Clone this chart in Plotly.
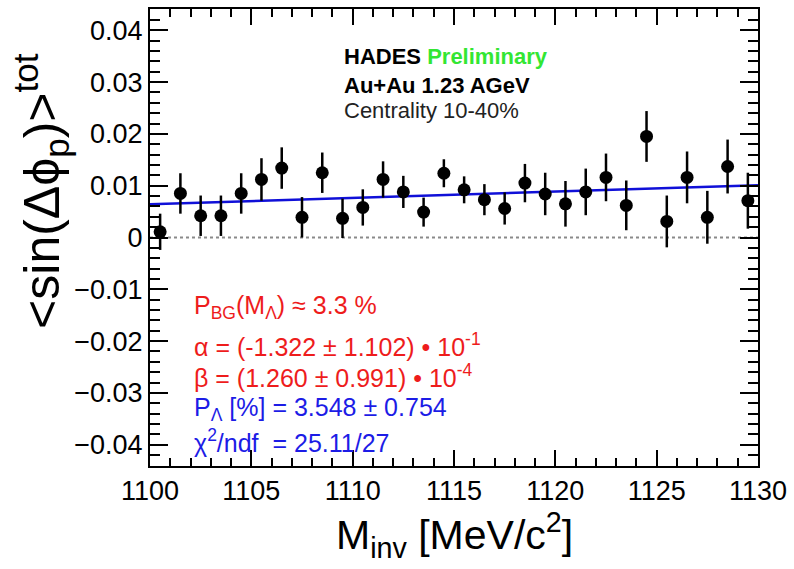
import plotly.graph_objects as go

# Invariant-mass bin centres [MeV/c^2]
mass = [1100.5, 1101.5, 1102.5, 1103.5, 1104.5, 1105.5, 1106.5, 1107.5, 1108.5, 1109.5,
        1110.5, 1111.5, 1112.5, 1113.5, 1114.5, 1115.5, 1116.5, 1117.5, 1118.5, 1119.5,
        1120.5, 1121.5, 1122.5, 1123.5, 1124.5, 1125.5, 1126.5, 1127.5, 1128.5, 1129.5]

# <sin(dphi_p)>^tot per bin and its statistical error
sin_tot = [0.0011, 0.0085, 0.0042, 0.0042, 0.0085, 0.0112, 0.0134, 0.0039, 0.0125, 0.0037,
           0.0058, 0.0112, 0.0088, 0.0049, 0.0124, 0.0092, 0.0073, 0.0056, 0.0105, 0.0084,
           0.0065, 0.0088, 0.0116, 0.0062, 0.0195, 0.0031, 0.0116, 0.0039, 0.0137, 0.0071]
sin_err = [0.0035, 0.0039, 0.0039, 0.0039, 0.0039, 0.0041, 0.0040, 0.0039, 0.0039, 0.0038,
           0.0035, 0.0035, 0.0031, 0.0028, 0.0027, 0.0026, 0.0030, 0.0031, 0.0037, 0.0041,
           0.0044, 0.0045, 0.0046, 0.0048, 0.0049, 0.0050, 0.0050, 0.0051, 0.0052, 0.0054]

# Fit function evaluated at the edges of the mass window
fit_mass = [1100, 1130]
fit_values = [0.0064, 0.0101]

# Zero reference
zero_mass = [1100, 1130]
zero_values = [0, 0]

x_range = [1100, 1130]
y_range = [-0.0441, 0.0441]
x_ticks = [1100, 1105, 1110, 1115, 1120, 1125, 1130]
y_ticks = [-0.04, -0.03, -0.02, -0.01, 0, 0.01, 0.02, 0.03, 0.04]
y_ticktext = ["\u22120.04", "\u22120.03", "\u22120.02", "\u22120.01", "0",
              "0.01", "0.02", "0.03", "0.04"]

FONT = "Liberation Sans, Arial, Helvetica, sans-serif"
RED = "#ee1c1c"
BLUE = "#1c1ce6"

fig = go.Figure()

fig.add_trace(go.Scatter(
    x=zero_mass, y=zero_values, mode="lines",
    line=dict(color="#8a8a8a", width=2, dash="dot"),
    hoverinfo="skip", showlegend=False))

fig.add_trace(go.Scatter(
    x=fit_mass, y=fit_values, mode="lines",
    line=dict(color="#1010d8", width=2.5),
    showlegend=False))

fig.add_trace(go.Scatter(
    x=mass, y=sin_tot, mode="markers",
    marker=dict(color="black", size=13, symbol="circle"),
    error_y=dict(type="data", array=sin_err, visible=True,
                 color="black", thickness=2.5, width=0),
    showlegend=False))

tick_font = dict(family=FONT, size=27, color="black")

# frame with inside ticks repeated on all four sides
fig.update_layout(
    xaxis=dict(range=x_range, tickvals=x_ticks,
               ticks="inside", ticklen=16, tickwidth=2, tickcolor="black",
               showline=True, linecolor="black", linewidth=2, mirror="allticks",
               gridcolor="white", zerolinecolor="white",
               minor=dict(dtick=1, ticks="inside", ticklen=8,
                          tickcolor="black", tickwidth=2),
               tickfont=tick_font),
    yaxis=dict(range=y_range, tickvals=y_ticks, ticktext=y_ticktext,
               ticks="inside", ticklen=18, tickwidth=2, tickcolor="black",
               showline=True, linecolor="black", linewidth=2, mirror="allticks",
               gridcolor="white", zerolinecolor="white",
               minor=dict(dtick=0.002, ticks="inside", ticklen=10,
                          tickcolor="black", tickwidth=2),
               tickfont=tick_font),
)

W, H = 794, 569
L, R, T, B = 150, 32, 7, 103


def px(xp):
    return (xp - L) / (W - L - R)


def py(yp):
    return (H - B - yp) / (H - T - B)


annotations = [
    # axis titles
    dict(x=px(40), y=py(190), textangle=-90,
         text="&lt;sin(\u0394\u03d5<sub>p</sub>)&gt;<sup>tot</sup>",
         font=dict(family=FONT, size=50, color="black")),
    dict(x=px(456), y=py(535),
         text="M<sub>inv</sub> [MeV/c<sup>2</sup>]",
         font=dict(family=FONT, size=41, color="black")),
    # experiment label
    dict(x=px(343), y=py(55), xanchor="left",
         text="<b>HADES</b> <b><span style='color:#33e633'>Preliminary</span></b>",
         font=dict(family=FONT, size=22, color="black")),
    dict(x=px(343), y=py(84), xanchor="left",
         text="<b>Au+Au 1.23 AGeV</b>",
         font=dict(family=FONT, size=22, color="black")),
    dict(x=px(343), y=py(109), xanchor="left",
         text="Centrality 10-40%",
         font=dict(family=FONT, size=22, color="#222222")),
    # fit results
    dict(x=px(192), y=py(306), xanchor="left",
         text="P<sub>BG</sub>(M<sub>\u039b</sub>) \u2248 3.3 %",
         font=dict(family=FONT, size=25, color=RED)),
    dict(x=px(192), y=py(344), xanchor="left",
         text="\u03b1 = (-1.322 \u00b1 1.102) \u2022 10<sup>-1</sup>",
         font=dict(family=FONT, size=25, color=RED)),
    dict(x=px(192), y=py(376), xanchor="left",
         text="\u03b2 = (1.260 \u00b1 0.991) \u2022 10<sup>-4</sup>",
         font=dict(family=FONT, size=25, color=RED)),
    dict(x=px(192), y=py(409), xanchor="left",
         text="P<sub>\u039b</sub> [%] = 3.548 \u00b1 0.754",
         font=dict(family=FONT, size=25, color=BLUE)),
    dict(x=px(192), y=py(441), xanchor="left",
         text="\u03c7<sup>2</sup>/ndf  = 25.11/27",
         font=dict(family=FONT, size=25, color=BLUE)),
]
for a in annotations:
    a.update(xref="paper", yref="paper", showarrow=False)
    a.setdefault("xanchor", "center")
    a.setdefault("yanchor", "middle")

fig.update_layout(
    width=W, height=H,
    margin=dict(l=L, r=R, t=T, b=B),
    paper_bgcolor="white", plot_bgcolor="white",
    annotations=annotations,
    font=dict(family=FONT),
)

fig.write_html("out.html")
